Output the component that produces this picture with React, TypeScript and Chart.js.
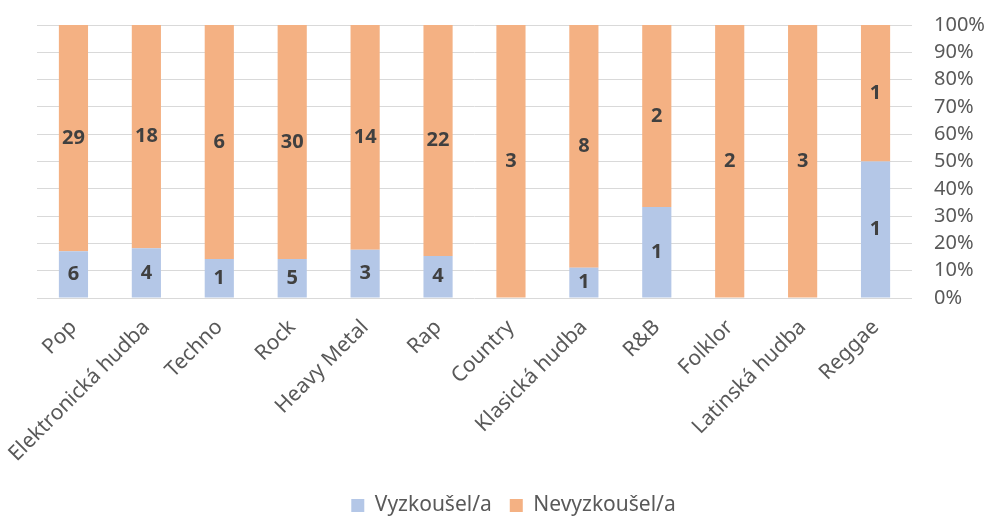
import React, { useEffect, useRef } from "react";
import { Chart, registerables } from "chart.js";

Chart.register(...registerables);

const categories = [
  "Pop",
  "Elektronická hudba",
  "Techno",
  "Rock",
  "Heavy Metal",
  "Rap",
  "Country",
  "Klasická hudba",
  "R&B",
  "Folklor",
  "Latinská hudba",
  "Reggae",
];
const triedCounts = [6, 4, 1, 5, 3, 4, 0, 1, 1, 0, 0, 1];
const notTriedCounts = [29, 18, 6, 30, 14, 22, 3, 8, 2, 2, 3, 1];
const seriesNames = ["Vyzkoušel/a", "Nevyzkoušel/a"];
const yTicks = [0, 10, 20, 30, 40, 50, 60, 70, 80, 90, 100];

const FONT = "'Noto Sans', 'Open Sans', sans-serif";

const pct = (a: number[], b: number[]) =>
  a.map((v, i) => (a[i] + b[i] === 0 ? 0 : (v / (a[i] + b[i])) * 100));

const labelPlugin = {
  id: "segLabels",
  afterDatasetsDraw(chart: any) {
    const ctx = chart.ctx;
    ctx.save();
    ctx.font = `bold 20px ${FONT}`;
    ctx.fillStyle = "#404040";
    ctx.textAlign = "center";
    ctx.textBaseline = "middle";
    chart.data.datasets.forEach((ds: any, di: number) => {
      const meta = chart.getDatasetMeta(di);
      meta.data.forEach((el: any, i: number) => {
        const c = ds.counts[i];
        if (!c) return;
        const y = (el.y + el.base) / 2;
        ctx.fillText(String(c), el.x, y);
      });
    });
    ctx.restore();
  },
};

export default function App() {
  const ref = useRef<HTMLCanvasElement>(null);
  useEffect(() => {
    document.body.style.margin = "0";
    const chart = new Chart(ref.current!, {
      type: "bar",
      data: {
        labels: categories,
        datasets: [
          {
            label: seriesNames[0],
            data: pct(triedCounts, notTriedCounts),
            counts: triedCounts,
            backgroundColor: "#b4c7e7",
            barPercentage: 0.4,
            categoryPercentage: 1,
          } as any,
          {
            label: seriesNames[1],
            data: pct(notTriedCounts, triedCounts),
            counts: notTriedCounts,
            backgroundColor: "#f4b183",
            barPercentage: 0.4,
            categoryPercentage: 1,
          } as any,
        ],
      },
      options: {
        animation: false,
        responsive: false,
        layout: { padding: { left: 37, right: 0, top: 25, bottom: -10 } },
        plugins: {
          legend: {
            position: "bottom",
            labels: {
              boxWidth: 13,
              boxHeight: 13,
              padding: 18,
              color: "#595959",
              font: { family: FONT, size: 21 },
            },
          },
          tooltip: { enabled: false },
        },
        scales: {
          x: {
            stacked: true,
            grid: { display: false },
            border: { display: false },
            afterFit: (s: any) => {
              s.height = 179;
              s.paddingLeft = 0;
              s.paddingRight = 0;
            },
            ticks: {
              minRotation: 45,
              maxRotation: 45,
              color: "#595959",
              font: { family: FONT, size: 21 },
              padding: 9,
            },
          },
          y: {
            stacked: true,
            position: "right",
            min: 0,
            max: 100,
            afterBuildTicks: (axis: any) => {
              axis.ticks = yTicks.map((v) => ({ value: v }));
            },
            afterFit: (s: any) => {
              s.width = 78;
              s.paddingTop = 0;
              s.paddingBottom = 0;
            },
            grid: { color: "#d9d9d9", lineWidth: 1, drawTicks: false },
            border: { display: false },
            ticks: {
              autoSkip: false,
              padding: 22,
              color: "#595959",
              font: { family: FONT, size: 20 },
              callback: (v: any) => v + "%",
            },
          },
        },
      },
      plugins: [labelPlugin],
    });
    return () => chart.destroy();
  }, []);
  return <canvas ref={ref} width={990} height={516} />;
}
